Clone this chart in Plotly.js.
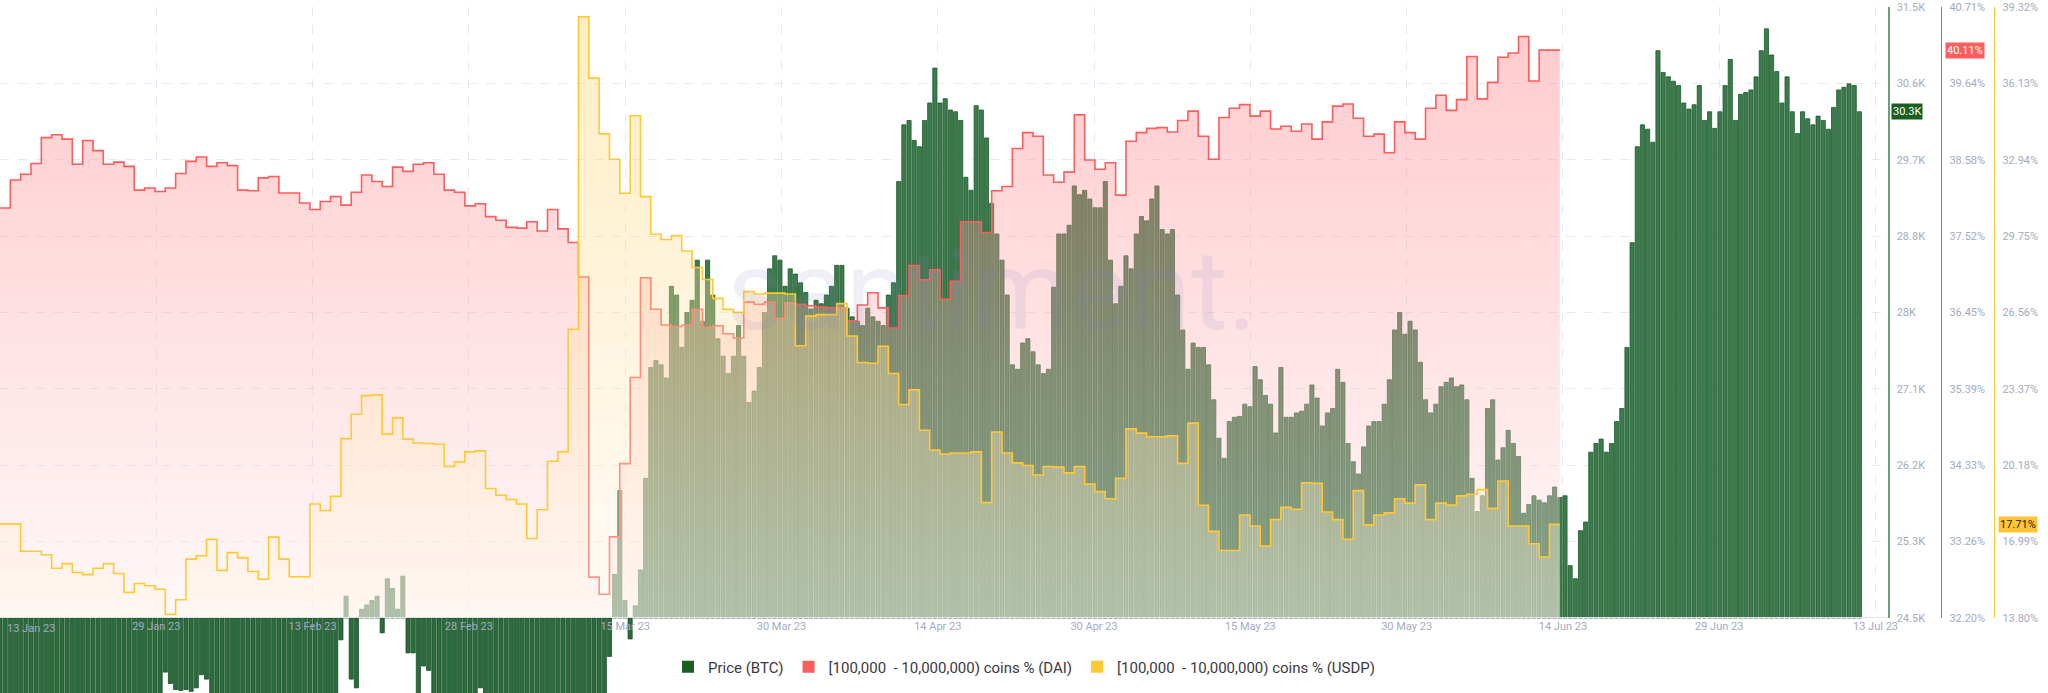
<!DOCTYPE html>
<html><head><meta charset="utf-8">
<script src="https://cdn.plot.ly/plotly-3.0.1.min.js"></script>
<style>html,body{margin:0;padding:0;background:#fff;}#chart{width:2048px;height:693px;}</style>
</head><body><div id="chart"></div>
<script>
// ---------- labels ----------
const seriesNames = ['Price (BTC)', '[100,000\u00a0 - 10,000,000) coins % (DAI)', '[100,000\u00a0 - 10,000,000) coins % (USDP)'];
const xTickLabels = ['13 Jan 23','29 Jan 23','13 Feb 23','28 Feb 23','15 Mar 23','30 Mar 23','14 Apr 23','30 Apr 23','15 May 23','30 May 23','14 Jun 23','29 Jun 23','13 Jul 23'];
const priceTickLabels = ['24.5K','25.3K','26.2K','27.1K','28K','28.8K','29.7K','30.6K','31.5K'];
const daiTickLabels = ['32.20%','33.26%','34.33%','35.39%','36.45%','37.52%','38.58%','39.64%','40.71%'];
const usdpTickLabels = ['13.80%','16.99%','20.18%','23.37%','26.56%','29.75%','32.94%','36.13%','39.32%'];

// ---------- data ----------
// BTC price (thousand USD), one value every 12 hours from 13 Jan 2023
const priceStart = '2023-01-13T00:00:00Z';
const priceStepHours = 12;
const priceK = [
19.2,19.9,20.9,20.8,20.7,20.9,21.1,21.2,21.1,20.7,
20.9,21.1,22.5,22.7,22.8,22.7,22.8,22.9,22.6,22.8,
23.0,23.1,23.0,23.1,23.0,23.1,23.2,23.0,23.1,23.3,
23.4,23.5,23.88,23.75,23.68,23.67,23.68,23.66,23.7,23.85,
23.8,23.4,23.4,23.3,23.2,22.9,22.8,22.9,23.2,23.1,
22.9,22.6,22.0,21.8,21.6,21.7,21.8,21.8,21.7,21.8,
21.9,22.1,22.2,22.3,22.2,23.2,24.25,24.75,23.8,23.7,
24.6,24.65,24.7,24.75,24.33,24.95,24.84,24.6,24.98,24.1,
24.1,23.5,23.95,23.9,23.4,23.2,23.1,23.2,23.4,23.5,
23.2,23.5,23.4,23.7,23.4,23.3,22.4,22.3,22.4,22.3,
22.4,22.2,22.0,21.7,20.4,20.2,20.0,20.4,20.6,21.0,
22.1,22.5,23.0,23.4,23.5,23.4,23.6,23.5,24.06,25.0,
25.96,24.7,24.26,24.64,25.05,26.1,27.37,27.45,27.4,27.25,
28.3,28.2,27.6,28.0,28.14,28.6,27.9,28.6,28.2,27.7,
27.5,27.3,27.5,27.85,27.5,26.97,27.1,27.37,28.0,28.5,
28.65,28.6,28.3,28.5,28.44,28.34,28.23,28.04,28.14,28.1,
28.2,28.3,28.54,28.54,28.05,27.95,27.9,27.85,28.05,27.95,
27.9,27.85,28.2,28.34,29.5,30.15,30.2,29.97,29.9,30.2,
30.4,30.8,30.4,30.45,30.32,30.3,30.2,29.55,29.4,30.37,
30.32,30.0,29.25,28.9,28.6,28.2,27.4,27.35,27.65,27.7,
27.55,27.4,27.3,27.35,28.29,28.9,28.9,29.0,29.45,29.35,
29.4,29.3,29.2,29.2,29.5,28.6,28.1,28.3,28.65,28.5,
28.9,29.1,29.05,29.3,29.45,28.95,28.9,28.95,28.2,27.8,
27.35,27.65,27.6,27.6,27.4,27.0,26.56,26.33,26.75,26.8,
26.81,26.95,26.92,27.38,27.23,27.05,26.95,26.62,27.37,26.8,
26.8,26.85,26.87,26.95,27.17,27.02,26.7,26.85,26.9,27.35,
27.2,26.5,26.29,26.15,26.46,26.7,26.75,26.75,26.95,27.23,
27.8,28.0,27.75,27.9,27.8,27.43,27.0,26.85,26.95,27.15,
27.2,27.25,27.15,27.17,27.0,26.1,25.72,25.9,26.9,27.0,
26.31,26.45,26.65,26.5,26.35,25.7,25.8,25.9,25.85,25.82,
25.9,26.0,25.88,25.9,25.1,24.95,25.5,25.6,26.4,26.5,
26.55,26.4,26.5,26.75,26.9,27.6,28.8,29.9,30.15,30.1,
29.95,31.0,30.75,30.7,30.65,30.6,30.4,30.33,30.38,30.6,
30.2,30.3,30.11,30.3,30.6,30.9,30.2,30.5,30.52,30.55,
30.7,31.0,31.25,30.95,30.76,30.4,30.7,30.3,30.05,30.3,
30.22,30.15,30.25,30.2,30.1,30.35,30.55,30.58,30.62,30.6,
30.3
];
// holder share (%) of addresses with 100k-10M coins, daily from 13 Jan 2023
const stableStart = '2023-01-13T00:00:00Z';
const stableStepHours = 24;
const daiPct = [
37.91,38.30,38.38,38.53,38.89,38.93,38.87,38.52,38.85,38.71,
38.52,38.55,38.49,38.16,38.19,38.14,38.19,38.39,38.56,38.62,
38.49,38.54,38.50,38.16,38.15,38.33,38.35,38.12,38.12,37.98,
37.89,38.00,38.07,37.95,38.13,38.37,38.28,38.21,38.48,38.42,
38.52,38.54,38.38,38.16,38.13,37.94,37.97,37.79,37.74,37.64,
37.63,37.72,37.59,37.89,37.62,37.43,36.95,32.77,32.53,33.33,
34.35,35.55,36.94,36.50,36.28,36.26,36.28,36.50,36.25,36.27,
36.16,36.10,36.60,36.57,36.60,36.37,36.59,36.57,36.55,36.53,
36.52,36.52,36.34,36.56,36.73,36.52,36.24,36.69,37.11,36.91,
37.05,36.64,36.89,37.72,37.72,37.57,38.15,38.21,38.74,38.96,
38.91,38.37,38.27,38.41,39.21,38.58,38.45,38.54,38.09,38.84,
38.96,39.02,39.03,38.97,39.13,39.26,38.91,38.59,39.17,39.30,
39.35,39.19,39.26,39.01,39.05,38.98,39.08,38.87,39.11,39.33,
39.36,39.16,38.91,38.94,38.68,39.11,38.96,38.87,39.30,39.48,
39.27,39.42,40.02,39.43,39.66,40.01,40.07,40.30,39.68,40.11,
40.11,40.11
];
const usdpPct = [
17.73,17.73,16.59,16.59,16.44,15.88,16.07,15.70,15.61,15.88,
16.07,15.66,14.87,15.24,15.15,15.00,13.95,14.56,16.26,16.40,
17.09,15.79,16.53,16.31,15.74,15.42,17.18,16.26,15.52,15.52,
18.56,18.29,18.88,21.29,22.31,23.09,23.12,21.48,22.16,21.27,
21.11,21.09,21.06,20.13,20.32,20.74,20.78,19.21,18.93,18.75,
18.56,17.12,18.32,20.35,20.74,25.86,38.91,36.35,34.02,32.96,
31.54,34.78,31.40,29.83,29.61,29.77,29.13,28.44,27.94,27.15,
26.69,26.56,27.43,27.33,27.37,27.37,27.33,25.17,26.41,26.47,
26.47,26.93,25.58,24.47,24.44,25.15,24.01,22.72,23.33,21.64,
20.82,20.65,20.69,20.69,20.74,18.62,21.57,20.69,20.28,20.17,
19.77,20.13,20.10,19.86,20.13,19.39,19.08,18.78,19.64,21.70,
21.52,21.37,21.37,21.41,20.26,21.94,18.51,17.42,16.62,16.62,
18.10,17.64,16.81,17.91,18.42,18.34,19.45,19.43,18.23,17.91,
17.09,19.12,17.69,18.10,18.19,18.78,18.60,19.36,17.91,18.60,
18.52,18.90,18.97,19.16,18.38,19.52,17.64,17.64,16.90,16.35,
17.71,17.71
];

// ---------- axis config ----------
const priceRange = [24.5, 31.5];
const daiRange = [32.20, 40.71];
const usdpRange = [13.80, 39.32];
const W = 2048, H = 693, TOP = 7, AXIS_Y = 618, PLOT_R = 1888;
const DAY = 86400000;
const t0 = Date.parse(priceStart);
const viewDays = 182.77;      // visible time span
const tickStepDays = 15.13;   // spacing of date grid lines

const iso = ms => new Date(ms).toISOString().slice(0, 19).replace('T', ' ');
const lin = (r, n) => Array.from({length: n}, (_, k) => r[0] + k * (r[1] - r[0]) / (n - 1));
const priceDates = priceK.map((_, i) => iso(Date.parse(priceStart) + i * priceStepHours * 3600000));
const stableDates = daiPct.map((_, j) => iso(Date.parse(stableStart) + j * stableStepHours * 3600000));
const xRange = [iso(t0), iso(t0 + viewDays * DAY)];
const xTickVals = xTickLabels.map((_, k) => iso(t0 + k * tickStepDays * DAY));

const plotH = H - TOP;
const lowFrac = (H - AXIS_Y) / plotH;
const pxPerK = (AXIS_Y - TOP) / (priceRange[1] - priceRange[0]);
const lowRange = [priceRange[0] - (H - AXIS_Y) / pxPerK, priceRange[0]];
const xPaper = px => px / W;
const yPaper = py => (H - py) / plotH;

const tickFont = {family: 'Roboto, sans-serif', size: 11, color: '#a3abc3'};
const gridColor = '#e6e9f1';
const barColor = '#3d7b4d', barLine = '#1b5a2b';

const traces = [
  {type: 'bar', x: priceDates, y: priceK, xaxis: 'x', yaxis: 'y', showlegend: false, hoverinfo: 'skip',
   marker: {color: barColor, line: {color: barLine, width: 0.8}}},
  {type: 'bar', x: priceDates, y: priceK.map(p => p - priceRange[0]), base: priceRange[0], xaxis: 'x2', yaxis: 'y4',
   showlegend: false, hoverinfo: 'skip', marker: {color: '#2c6b3c', line: {color: '#174f25', width: 0.8}}},
  {type: 'scatter', mode: 'lines', x: stableDates, y: daiPct, xaxis: 'x', yaxis: 'y2', showlegend: false, hoverinfo: 'skip',
   line: {color: '#ff5c5c', width: 1.6, shape: 'hv'}, fill: 'tozeroy', fillcolor: 'rgba(255,150,155,0.3)',
   fillgradient: {type: 'vertical', start: daiRange[0], stop: daiRange[1],
     colorscale: [[0, 'rgba(255,236,237,0.36)'], [1, 'rgba(255,105,112,0.36)']]}},
  {type: 'scatter', mode: 'lines', x: stableDates, y: usdpPct, xaxis: 'x', yaxis: 'y3', showlegend: false, hoverinfo: 'skip',
   line: {color: '#ffc933', width: 1.6, shape: 'hv'}, fill: 'tozeroy', fillcolor: 'rgba(255,225,150,0.3)',
   fillgradient: {type: 'vertical', start: usdpRange[0], stop: usdpRange[1],
     colorscale: [[0, 'rgba(255,246,232,0.36)'], [1, 'rgba(255,205,90,0.36)']]}},
  // legend entries
  {type: 'bar', x: [null], y: [null], name: seriesNames[0], xaxis: 'x', yaxis: 'y', marker: {color: '#1b5e20', line: {width: 0}}},
  {type: 'bar', x: [null], y: [null], name: seriesNames[1], xaxis: 'x', yaxis: 'y', marker: {color: '#ff5c5c', line: {width: 0}}},
  {type: 'bar', x: [null], y: [null], name: seriesNames[2], xaxis: 'x', yaxis: 'y', marker: {color: '#ffc933', line: {width: 0}}}
];

const last = a => a[a.length - 1];
const layout = {
  width: W, height: H, margin: {l: 0, r: 0, t: TOP, b: 0, pad: 0},
  paper_bgcolor: '#ffffff', plot_bgcolor: 'rgba(0,0,0,0)',
  bargap: 0.2, barmode: 'overlay', showlegend: true,
  font: {family: 'Roboto, sans-serif'},
  xaxis: {type: 'date', domain: [0, PLOT_R / W], range: xRange, anchor: 'y',
    tickmode: 'array', tickvals: xTickVals, ticktext: xTickLabels, showticklabels: false, ticks: '',
    showgrid: true, gridcolor: gridColor, griddash: 'dash', gridwidth: 1, zeroline: false, showline: false},
  xaxis2: {type: 'date', matches: 'x', domain: [0, PLOT_R / W], range: xRange, anchor: 'y4', side: 'top',
    tickmode: 'array', tickvals: xTickVals, ticktext: xTickLabels.map((t, k) => k === 0 ? '' : t),
    ticklabelposition: 'inside', ticklabeloverflow: 'allow', ticks: '', tickfont: tickFont, ticklabelstandoff: 4,
    showgrid: false, zeroline: false, showline: true, linecolor: '#e2e5ed', linewidth: 1},
  yaxis: {domain: [lowFrac, 1], range: priceRange, anchor: 'x', side: 'right',
    tickmode: 'array', tickvals: lin(priceRange, 9), ticktext: priceTickLabels, ticks: '',
    tickfont: tickFont, ticklabelstandoff: 5,
    showgrid: true, gridcolor: gridColor, griddash: 'dash', zeroline: false,
    showline: true, linecolor: '#6aa077', linewidth: 1.5},
  yaxis2: {overlaying: 'y', anchor: 'free', position: 1941 / W, side: 'right', range: daiRange,
    tickmode: 'array', tickvals: lin(daiRange, 9), ticktext: daiTickLabels, ticks: '',
    tickfont: tickFont, ticklabelstandoff: 5, showgrid: false, zeroline: false,
    showline: true, linecolor: '#f0595a', linewidth: 1.2},
  yaxis3: {overlaying: 'y', anchor: 'free', position: 1994 / W, side: 'right', range: usdpRange,
    tickmode: 'array', tickvals: lin(usdpRange, 9), ticktext: usdpTickLabels, ticks: '',
    tickfont: tickFont, ticklabelstandoff: 5, showgrid: false, zeroline: false,
    showline: true, linecolor: '#ffc52e', linewidth: 1.2},
  yaxis4: {domain: [0, lowFrac], range: lowRange, anchor: 'x2', visible: false},
  legend: {orientation: 'h', x: 0.5, xanchor: 'center', y: yPaper(667), yanchor: 'middle',
    font: {family: 'Roboto, sans-serif', size: 15, color: '#3a3a44'}, bgcolor: 'rgba(0,0,0,0)',
    itemwidth: 30, traceorder: 'normal'},
  annotations: [
    {text: 'santiment.', xref: 'paper', yref: 'paper', x: xPaper(992), y: yPaper(290), xanchor: 'center', yanchor: 'middle',
     showarrow: false, font: {family: 'Roboto, sans-serif', size: 112, color: 'rgba(125,135,190,0.13)'}},
    {text: xTickLabels[0], xref: 'x', yref: 'paper', x: xTickVals[0], y: yPaper(628), xanchor: 'left', yanchor: 'middle',
     xshift: 5, showarrow: false, font: tickFont},
    {text: last(priceK).toFixed(1) + 'K', xref: 'paper', yref: 'y', x: xPaper(1891), y: last(priceK),
     xanchor: 'left', yanchor: 'middle', showarrow: false, bgcolor: '#1b5e20', borderpad: 1,
     font: {family: 'Roboto, sans-serif', size: 11, color: '#ffffff'}},
    {text: last(daiPct).toFixed(2) + '%', xref: 'paper', yref: 'y2', x: xPaper(1945), y: last(daiPct),
     xanchor: 'left', yanchor: 'middle', showarrow: false, bgcolor: '#ff5d5d', borderpad: 1,
     font: {family: 'Roboto, sans-serif', size: 11, color: '#ffffff'}},
    {text: last(usdpPct).toFixed(2) + '%', xref: 'paper', yref: 'y3', x: xPaper(1998), y: last(usdpPct),
     xanchor: 'left', yanchor: 'middle', showarrow: false, bgcolor: '#ffc533', borderpad: 1,
     font: {family: 'Roboto, sans-serif', size: 11, color: '#1d1d1d'}}
  ]
};

Plotly.newPlot('chart', traces, layout, {staticPlot: true, displayModeBar: false});
</script>
</body></html>
